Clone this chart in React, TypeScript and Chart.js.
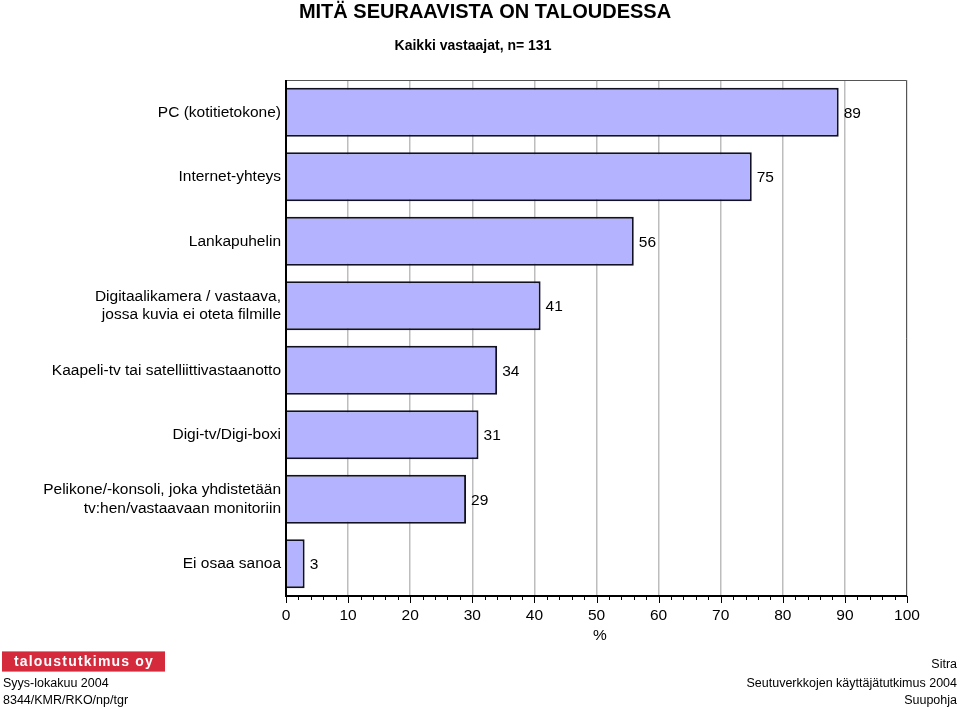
import React, { useEffect, useRef } from "react";
import { Chart, registerables } from "chart.js";

Chart.register(...registerables);

const categories: (string | string[])[] = [
  "PC (kotitietokone)",
  "Internet-yhteys",
  "Lankapuhelin",
  ["Digitaalikamera / vastaava,", "jossa kuvia ei oteta filmille"],
  "Kaapeli-tv tai satelliittivastaanotto",
  "Digi-tv/Digi-boxi",
  ["Pelikone/-konsoli, joka yhdistetään", "tv:hen/vastaavaan monitoriin"],
  "Ei osaa sanoa",
];
const values: number[] = [89, 75, 56, 41, 34, 31, 29, 3];
const xTicks: number[] = [0, 10, 20, 30, 40, 50, 60, 70, 80, 90, 100];

const titleText = "MITÄ SEURAAVISTA ON TALOUDESSA";
const subtitleText = "Kaikki vastaajat, n= 131";
const axisTitle = "%";
const footerLeft = ["Syys-lokakuu 2004", "8344/KMR/RKO/np/tgr"];
const footerRight = ["Sitra", "Seutuverkkojen käyttäjätutkimus 2004", "Suupohja"];
const logoText = "taloustutkimus oy";

const FONT = "'Liberation Sans', Arial, sans-serif";

const decorPlugin = {
  id: "decor",
  afterDraw(chart: any) {
    const ctx = chart.ctx as CanvasRenderingContext2D;
    const area = chart.chartArea;
    const xs = chart.scales.x;
    ctx.save();
    // plot border
    ctx.strokeStyle = "#555";
    ctx.lineWidth = 1;
    ctx.beginPath();
    ctx.moveTo(area.left, area.top + 0.5);
    ctx.lineTo(area.right - 0.5, area.top + 0.5);
    ctx.lineTo(area.right - 0.5, area.bottom);
    ctx.stroke();
    ctx.strokeStyle = "#000";
    ctx.lineWidth = 2;
    ctx.beginPath();
    ctx.moveTo(area.left, area.top);
    ctx.lineTo(area.left, area.bottom);
    ctx.lineTo(area.right, area.bottom);
    ctx.stroke();
    // ticks
    ctx.lineWidth = 1;
    for (let v = 0; v <= 100; v += 2) {
      const px = Math.round(xs.getPixelForValue(v)) + 0.5;
      const len = v % 10 === 0 ? 7 : 4;
      ctx.beginPath();
      ctx.moveTo(px, area.bottom);
      ctx.lineTo(px, area.bottom + len);
      ctx.stroke();
    }
    // value labels
    const meta = chart.getDatasetMeta(0);
    ctx.fillStyle = "#000";
    ctx.font = `15.5px ${FONT}`;
    ctx.textAlign = "left";
    ctx.textBaseline = "middle";
    meta.data.forEach((bar: any, i: number) => {
      ctx.fillText(String(values[i]), bar.x + 5, bar.y + 1);
    });
    // titles
    ctx.textAlign = "center";
    ctx.font = `bold 20px ${FONT}`;
    ctx.fillText(titleText, 485, 12);
    ctx.font = `bold 14px ${FONT}`;
    ctx.fillText(subtitleText, 473, 46);
    ctx.font = `15.5px ${FONT}`;
    ctx.fillText(axisTitle, 600, 636);
    // logo
    ctx.fillStyle = "#d42a3c";
    ctx.fillRect(2, 651, 163, 21);
    ctx.fillStyle = "#f07a85";
    ctx.fillRect(2, 651, 163, 1);
    ctx.fillRect(2, 671, 163, 1);
    ctx.fillStyle = "#fff";
    ctx.font = `bold 14px ${FONT}`;
    (ctx as any).letterSpacing = "1.2px";
    ctx.fillText(logoText, 84, 662);
    (ctx as any).letterSpacing = "0px";
    // footers
    ctx.fillStyle = "#000";
    ctx.font = `12.5px ${FONT}`;
    ctx.textAlign = "left";
    ctx.fillText(footerLeft[0], 3, 684);
    ctx.fillText(footerLeft[1], 3, 701);
    ctx.textAlign = "right";
    ctx.fillText(footerRight[0], 957, 665);
    ctx.fillText(footerRight[1], 957, 684);
    ctx.fillText(footerRight[2], 957, 701);
    ctx.restore();
  },
};

export default function App() {
  const ref = useRef<HTMLCanvasElement | null>(null);
  useEffect(() => {
    if (!ref.current) return;
    const chart = new Chart(ref.current, {
      type: "bar",
      data: {
        labels: categories,
        datasets: [
          {
            data: values,
            backgroundColor: "#b3b3ff",
            borderColor: "#111122",
            borderWidth: 2,
            barPercentage: 0.76,
            categoryPercentage: 1,
          },
        ],
      },
      options: {
        indexAxis: "y",
        animation: false,
        responsive: false,
        maintainAspectRatio: false,
        layout: { padding: { left: 0, top: 80, right: 53, bottom: 73 } },
        plugins: {
          legend: { display: false },
          tooltip: { enabled: false },
          title: { display: false },
        },
        scales: {
          x: {
            min: 0,
            max: 100,
            afterBuildTicks: (scale: any) => {
              scale.ticks = xTicks.map((v) => ({ value: v }));
            },
            afterFit: (scale: any) => {
              scale.height = 40;
            },
            grid: {
              color: "#bdbdbd",
              lineWidth: 1.5,
              drawTicks: false,
            },
            border: { display: false },
            ticks: {
              color: "#000",
              font: { family: FONT, size: 15.5 },
              padding: 10,
              maxRotation: 0,
              autoSkip: false,
            },
          },
          y: {
            afterFit: (scale: any) => {
              scale.width = 286;
            },
            grid: { display: false, drawTicks: false },
            border: { display: false },
            ticks: {
              color: "#000",
              font: { family: FONT, size: 15.5, lineHeight: 1.22 },
              padding: 5,
              autoSkip: false,
            },
          },
        },
      },
      plugins: [decorPlugin],
    });
    return () => chart.destroy();
  }, []);
  return (
    <div style={{ position: "absolute", left: 0, top: 0, width: 960, height: 709, background: "#fff" }}>
      <canvas ref={ref} width={960} height={709} style={{ width: 960, height: 709 }} />
    </div>
  );
}
